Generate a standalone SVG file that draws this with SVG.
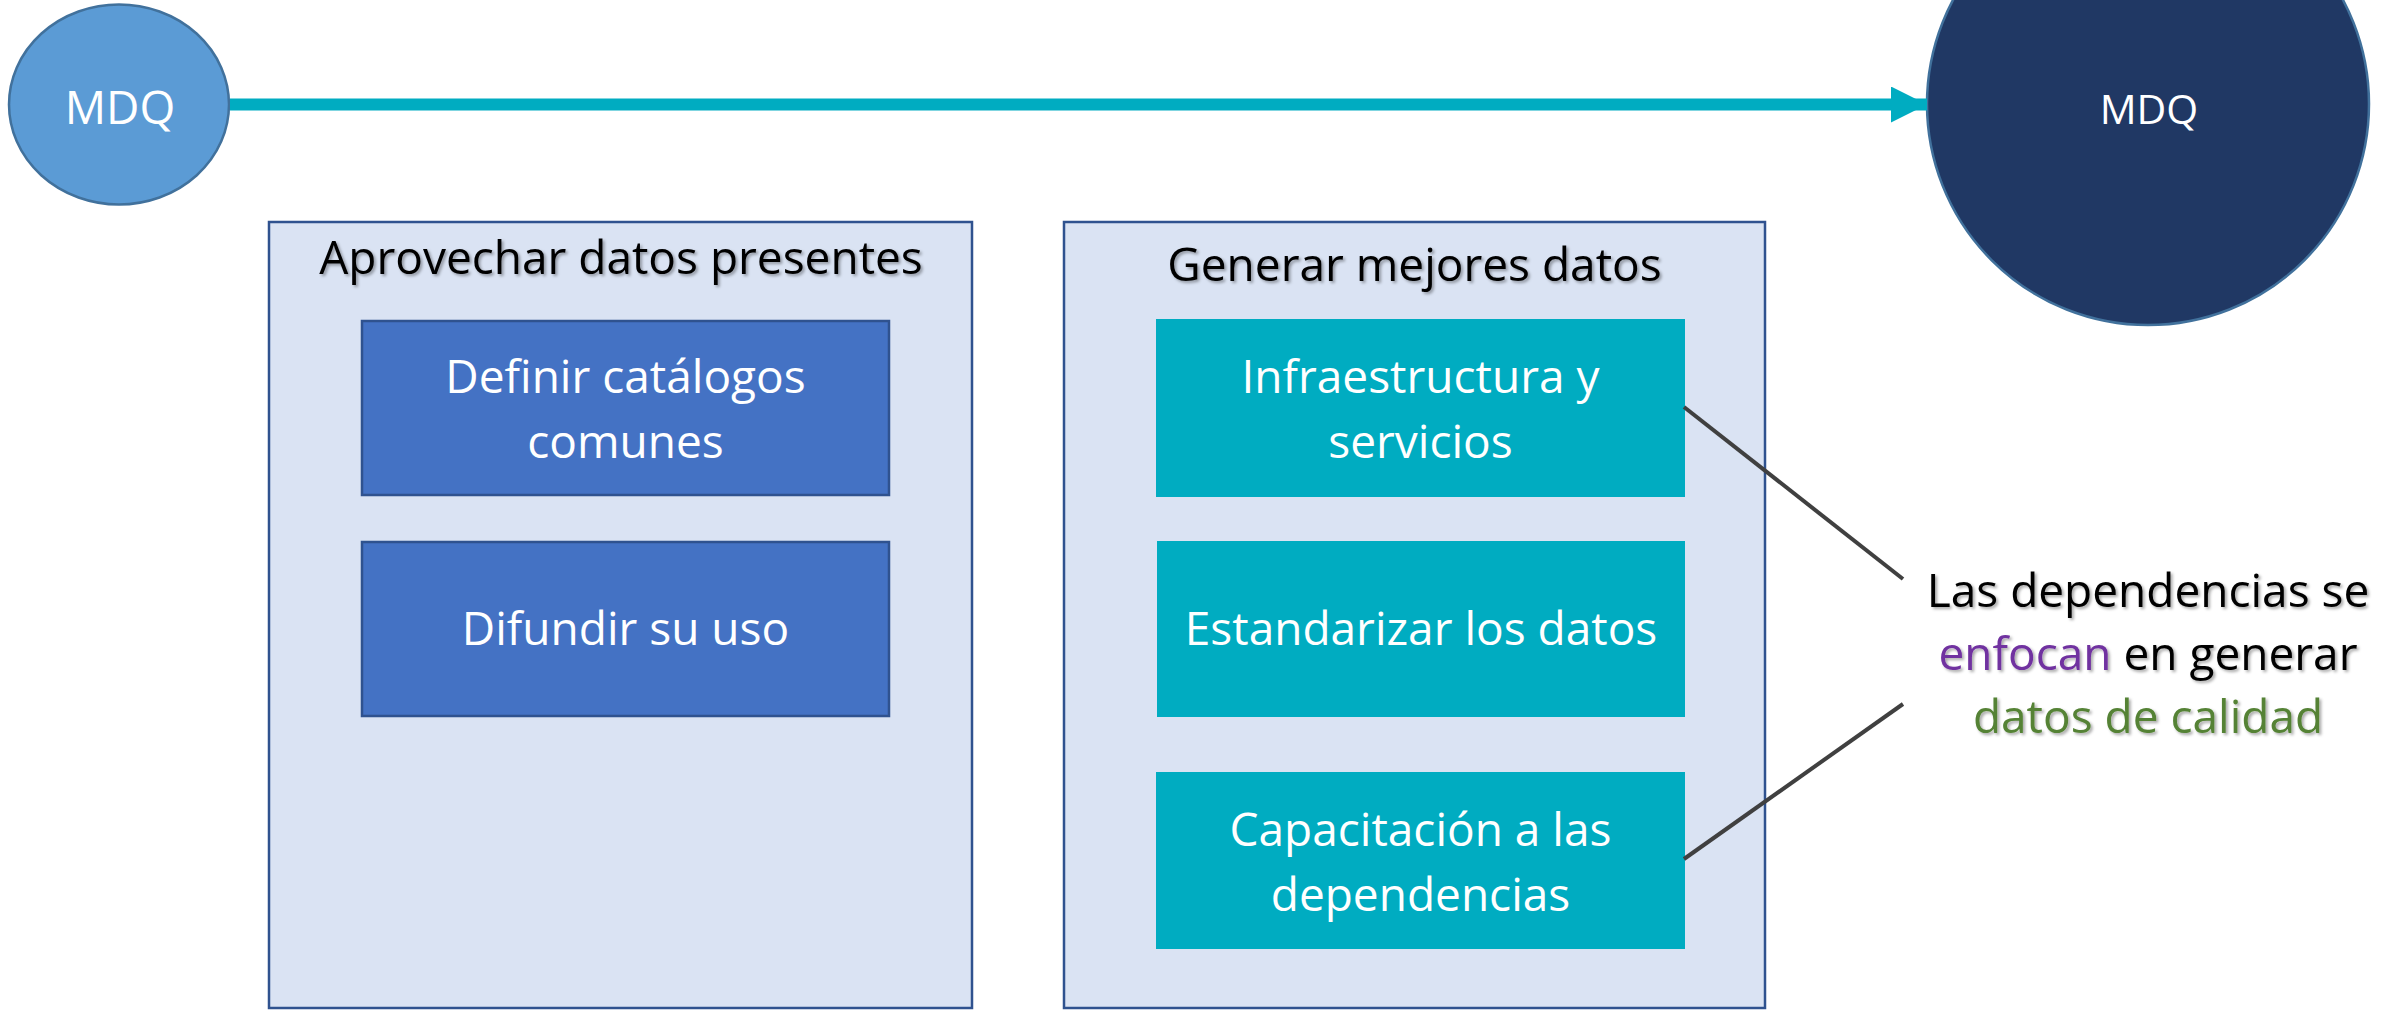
<svg xmlns="http://www.w3.org/2000/svg" width="2392" height="1010" viewBox="0 0 2392 1010">
  <defs>
    <filter id="shadow" x="-5%" y="-20%" width="110%" height="140%">
      <feDropShadow dx="2" dy="2" stdDeviation="1.5" flood-color="#000000" flood-opacity="0.35"/>
    </filter>
    <marker id="arrowhead" markerUnits="userSpaceOnUse" markerWidth="36" markerHeight="36" refX="36" refY="18" orient="auto">
      <path d="M0,0 L36,18 L0,36 Z" fill="#00ACC1"/>
    </marker>
  </defs>
  <style>
    text { font-family: "Open Sans", "Liberation Sans", sans-serif; text-anchor: middle; }
    .panel { fill: #DAE3F3; stroke: #2F528F; stroke-width: 2.5; }
    .blue { fill: #4472C4; stroke: #2F528F; stroke-width: 2.5; }
    .teal { fill: #00ACC1; }
    .white { fill: #FFFFFF; font-size: 46px; }
    .title { fill: #000000; font-size: 46px; filter: url(#shadow); }
    .note { font-size: 46px; filter: url(#shadow); }
    .black { fill: #000000; }
    .purple { fill: #7030A0; }
    .green { fill: #548235; }
    .conn { stroke: #404040; stroke-width: 4; fill: none; }
  </style>
  <rect width="2392" height="1010" fill="#FFFFFF"/>

  <g id="mdq-start">
    <ellipse cx="119" cy="104.5" rx="110" ry="100" fill="#5B9BD5" stroke="#41719C" stroke-width="2.5"/>
    <text class="white" x="120" y="124">MDQ</text>
  </g>

  <g id="mdq-end">
    <circle cx="2148" cy="104" r="221" fill="#203864" stroke="#41719C" stroke-width="2.5"/>
    <text x="2149" y="124" fill="#FFFFFF" font-size="41">MDQ</text>
  </g>

  <g id="panel-aprovechar">
    <rect class="panel" x="269" y="222" width="703" height="786"/>
    <text class="title" x="621" y="274">Aprovechar datos presentes</text>
  </g>

  <g id="node-definir">
    <rect class="blue" x="362" y="321" width="527" height="174"/>
    <text class="white" x="625.5" y="393">Definir catálogos</text>
    <text class="white" x="625.5" y="458">comunes</text>
  </g>

  <g id="node-difundir">
    <rect class="blue" x="362" y="542" width="527" height="174"/>
    <text class="white" x="625.5" y="645">Difundir su uso</text>
  </g>

  <g id="panel-generar">
    <rect class="panel" x="1064" y="222" width="701" height="786"/>
    <text class="title" x="1414.5" y="281">Generar mejores datos</text>
  </g>

  <g id="node-infraestructura">
    <rect class="teal" x="1156" y="319" width="529" height="178"/>
    <text class="white" x="1420.5" y="393">Infraestructura y</text>
    <text class="white" x="1420.5" y="458">servicios</text>
  </g>

  <g id="node-estandarizar">
    <rect class="teal" x="1157" y="541" width="528" height="176"/>
    <text class="white" x="1421" y="645">Estandarizar los datos</text>
  </g>

  <g id="node-capacitacion">
    <rect class="teal" x="1156" y="772" width="529" height="177"/>
    <text class="white" x="1420.5" y="846">Capacitación a las</text>
    <text class="white" x="1420.5" y="911">dependencias</text>
  </g>

  <g id="note-dependencias">
    <text class="note black" x="2148" y="607">Las dependencias se</text>
    <text class="note black" x="2148" y="670"><tspan class="purple">enfocan</tspan> en generar</text>
    <text class="note green" x="2148" y="733">datos de calidad</text>
  </g>

  <g id="connectors">
    <line x1="230" y1="104.5" x2="1927" y2="104.5" stroke="#00ACC1" stroke-width="12" marker-end="url(#arrowhead)"/>
    <line class="conn" x1="1684" y1="407" x2="1903" y2="579"/>
    <line class="conn" x1="1684" y1="859" x2="1903" y2="704"/>
  </g>
</svg>
